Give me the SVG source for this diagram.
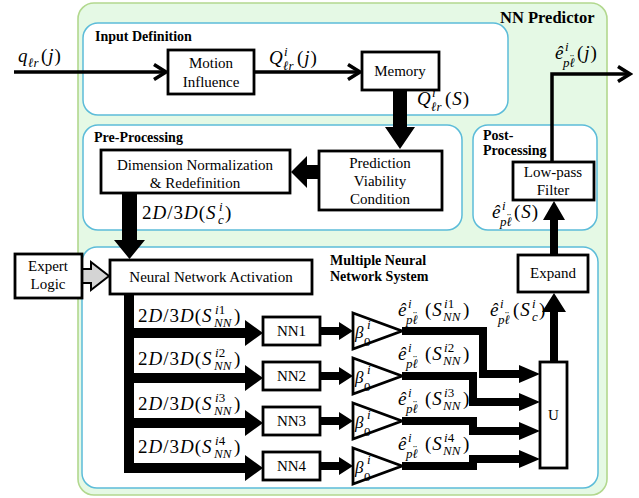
<svg xmlns="http://www.w3.org/2000/svg" width="639" height="498" viewBox="0 0 639 498">
<defs>
<style>
.outer{fill:#e5f9e5;stroke:#b2d88e;stroke-width:1.6}
.cont{fill:#fff;stroke:#5cbcd9;stroke-width:1.5}
.box{fill:#fff;stroke:#000;stroke-width:2.8}
.t{font-family:"Liberation Serif","Times New Roman",serif;font-size:15px;text-anchor:middle;fill:#000}
.h{font-family:"Liberation Serif","Times New Roman",serif;font-size:14px;font-weight:bold;fill:#000}
.m{font-family:"Liberation Serif","Times New Roman",serif;font-size:19px;letter-spacing:1px;fill:#000}
.s{font-family:"Liberation Serif","Times New Roman",serif;font-size:13px;fill:#000}
.d{font-family:"Liberation Serif","Times New Roman",serif;font-size:12px;fill:#000}
.i{font-style:italic}
.thin{fill:none;stroke:#000;stroke-width:3.5}
.w8{fill:none;stroke:#000;stroke-width:8}
.blk{fill:#000;stroke:none}
.gray{fill:#d4d4d4;stroke:#000;stroke-width:2}
</style>
<marker id="chev" markerUnits="userSpaceOnUse" markerWidth="18" markerHeight="20" viewBox="0 0 18 20" refX="15" refY="10" orient="auto">
<path d="M3,2.5 L15,10 L3,17.5" fill="none" stroke="#000" stroke-width="3.5"/>
</marker>
</defs>

<g id="containers">
<rect class="outer" x="78" y="3" width="529" height="492" rx="16"/>
<text class="h" x="500" y="23" style="font-size:16.5px">NN Predictor</text>
<rect class="cont" x="83" y="23" width="425" height="92" rx="15"/>
<text class="h" x="95" y="41">Input Definition</text>
<rect class="cont" x="83" y="125" width="379" height="105" rx="15"/>
<text class="h" x="94" y="142">Pre-Processing</text>
<rect class="cont" x="473" y="125" width="124" height="105" rx="15"/>
<text class="h" x="483" y="140">Post-</text>
<text class="h" x="483" y="155">Processing</text>
<rect class="cont" x="82" y="247" width="516" height="241" rx="15"/>
<text class="h" x="330" y="265">Multiple Neural</text>
<text class="h" x="330" y="281">Network System</text>
</g>

<g id="connectors">
<line class="thin" x1="14" y1="72" x2="166" y2="72" marker-end="url(#chev)"/>
<line class="thin" x1="254" y1="72" x2="360" y2="72" marker-end="url(#chev)"/>
<path class="blk" d="M393,90 H407 V127 H415 L400,149 L385,127 H393 Z"/>
<path class="blk" d="M319,165 H307 V156 L291,172 L307,188 V179 H319 Z"/>
<path class="blk" d="M122,193 H137 V240 H145 L129.5,259 L114,240 H122 Z"/>
<path class="gray" d="M82,269 H91 V262 L109,276 L91,290 V283 H82 Z"/>
<rect class="blk" x="124" y="294" width="10" height="179"/>
<path class="blk" d="M124,328 H245 V320 L263,333 L245,346 V338 H124 Z"/>
<path class="blk" d="M124,373 H245 V365 L263,378 L245,391 V383 H124 Z"/>
<path class="blk" d="M124,418 H245 V410 L263,423 L245,436 V428 H124 Z"/>
<path class="blk" d="M124,463 H245 V455 L263,468 L245,481 V473 H124 Z"/>
<path class="blk" d="M320,327 H339 V322 L353,331 L339,340 V335 H320 Z"/>
<path class="blk" d="M320,372 H339 V367 L353,376 L339,385 V380 H320 Z"/>
<path class="blk" d="M320,417 H339 V412 L353,421 L339,430 V425 H320 Z"/>
<path class="blk" d="M320,462 H339 V457 L353,466 L339,475 V470 H320 Z"/>
<path class="w8" d="M402,331 H483 V374 H522"/>
<path class="w8" d="M402,376 H473 V402 H522"/>
<path class="w8" d="M402,421 H473 V431 H522"/>
<path class="w8" d="M402,466 H473 V459 H522"/>
<path class="blk" d="M519,365 L540,374 L519,383 Z"/>
<path class="blk" d="M519,393 L540,402 L519,411 Z"/>
<path class="blk" d="M519,422 L540,431 L519,440 Z"/>
<path class="blk" d="M519,450 L540,459 L519,468 Z"/>
<path class="blk" d="M550,362 V312 H542 L554,293 L566,312 H558 V362 Z"/>
<path class="blk" d="M550,255 V220 H543 L554,201 L565,220 H558 V255 Z"/>
<polyline class="thin" points="552,162 552,74 630,74" marker-end="url(#chev)"/>
</g>

<g id="motion"><rect class="box" x="168" y="50" width="86" height="44"/>
<text class="t" x="211" y="68">Motion</text><text class="t" x="211" y="87">Influence</text></g>
<g id="memory"><rect class="box" x="362" y="52" width="77" height="38"/>
<text class="t" x="400" y="76">Memory</text></g>
<g id="prediction"><rect class="box" x="319" y="151" width="123" height="59"/>
<text class="t" x="380" y="168">Prediction</text><text class="t" x="380" y="186">Viability</text><text class="t" x="380" y="204">Condition</text></g>
<g id="dimension"><rect class="box" x="101" y="150" width="189" height="43"/>
<text class="t" x="195" y="170">Dimension Normalization</text><text class="t" x="195" y="188">&amp; Redefinition</text></g>
<g id="lowpass"><rect class="box" x="513" y="162" width="81" height="38"/>
<text class="t" x="553" y="177">Low-pass</text><text class="t" x="553" y="195">Filter</text></g>
<g id="expand"><rect class="box" x="518" y="255" width="70" height="37"/>
<text class="t" x="553" y="278">Expand</text></g>
<g id="expert"><rect class="box" x="15" y="254" width="67" height="44"/>
<text class="t" x="48" y="271">Expert</text><text class="t" x="48" y="289">Logic</text></g>
<g id="nna"><rect class="box" x="110" y="260" width="202" height="34"/>
<text class="t" x="211" y="282">Neural Network Activation</text></g>
<g id="nn1"><rect class="box" x="263" y="317" width="57" height="28"/><text class="t" x="291.5" y="336">NN1</text></g>
<g id="nn2"><rect class="box" x="263" y="362" width="57" height="28"/><text class="t" x="291.5" y="381">NN2</text></g>
<g id="nn3"><rect class="box" x="263" y="407" width="57" height="28"/><text class="t" x="291.5" y="426">NN3</text></g>
<g id="nn4"><rect class="box" x="263" y="452" width="57" height="28"/><text class="t" x="291.5" y="471">NN4</text></g>
<g id="u"><rect class="box" x="540" y="362" width="27" height="106"/><text class="t" x="553.5" y="420">U</text></g>

<g id="gain1"><path class="box" d="M353,313 L402,331 L353,349 Z"/>
<text class="m i" x="355" y="338" style="font-size:17px">β</text><text class="s i" x="367" y="329">i</text><text class="s" x="364" y="346">0</text></g>
<g id="gain2"><path class="box" d="M353,358 L402,376 L353,394 Z"/>
<text class="m i" x="355" y="383" style="font-size:17px">β</text><text class="s i" x="367" y="374">i</text><text class="s" x="364" y="391">0</text></g>
<g id="gain3"><path class="box" d="M353,403 L402,421 L353,439 Z"/>
<text class="m i" x="355" y="428" style="font-size:17px">β</text><text class="s i" x="367" y="419">i</text><text class="s" x="364" y="436">0</text></g>
<g id="gain4"><path class="box" d="M353,448 L402,466 L353,484 Z"/>
<text class="m i" x="355" y="473" style="font-size:17px">β</text><text class="s i" x="367" y="464">i</text><text class="s" x="364" y="481">0</text></g>

<g id="labels">
<text class="m i" x="18" y="62">q</text><text class="s i" x="28" y="67">ℓr</text><text class="m" x="41" y="62">(<tspan class="i">j</tspan>)</text>

<text class="m i" x="269" y="64">Q</text><text class="s i" x="284" y="56">i</text><text class="s i" x="283" y="70">ℓr</text><text class="m" x="297" y="64">(<tspan class="i">j</tspan>)</text>

<text class="m i" x="417" y="105">Q</text><text class="s i" x="432" y="97">i</text><text class="s i" x="431" y="111">ℓr</text><text class="m" x="445" y="105">(<tspan class="i">S</tspan>)</text>

<text class="m i" x="555" y="59">ê</text><text class="s i" x="565" y="51">i</text><text class="s i" x="563" y="67">pℓ</text><text class="d" x="570" y="63">¨</text><text class="m" x="577" y="59">(<tspan class="i">j</tspan>)</text>

<text class="m i" x="492" y="218">ê</text><text class="s i" x="502" y="210">i</text><text class="s i" x="500" y="226">pℓ</text><text class="d" x="507" y="222">¨</text><text class="m" x="514" y="218">(<tspan class="i">S</tspan>)</text>

<text class="m i" x="490" y="316">ê</text><text class="s i" x="500" y="308">i</text><text class="s i" x="498" y="324">pℓ</text><text class="d" x="505" y="320">¨</text><text class="m" x="513" y="316">(<tspan class="i">S</tspan></text><text class="s i" x="532" y="308">i</text><text class="s i" x="532" y="321">c</text><text class="m" x="539" y="316">)</text>

<text class="m" x="142" y="219">2<tspan class="i">D</tspan>/3<tspan class="i">D</tspan>(<tspan class="i">S</tspan></text><text class="s i" x="219" y="211">i</text><text class="s i" x="218" y="224">c</text><text class="m" x="225" y="219">)</text>

<text class="m" x="138" y="322">2<tspan class="i">D</tspan>/3<tspan class="i">D</tspan>(<tspan class="i">S</tspan></text><text class="s" x="215" y="314"><tspan class="i">i</tspan>1</text><text class="s i" x="214" y="327">NN</text><text class="m" x="234" y="322">)</text>
<text class="m" x="138" y="365">2<tspan class="i">D</tspan>/3<tspan class="i">D</tspan>(<tspan class="i">S</tspan></text><text class="s" x="215" y="357"><tspan class="i">i</tspan>2</text><text class="s i" x="214" y="370">NN</text><text class="m" x="234" y="365">)</text>
<text class="m" x="138" y="410">2<tspan class="i">D</tspan>/3<tspan class="i">D</tspan>(<tspan class="i">S</tspan></text><text class="s" x="215" y="402"><tspan class="i">i</tspan>3</text><text class="s i" x="214" y="415">NN</text><text class="m" x="234" y="410">)</text>
<text class="m" x="138" y="453">2<tspan class="i">D</tspan>/3<tspan class="i">D</tspan>(<tspan class="i">S</tspan></text><text class="s" x="215" y="445"><tspan class="i">i</tspan>4</text><text class="s i" x="214" y="458">NN</text><text class="m" x="234" y="453">)</text>

<text class="m i" x="398" y="316">ê</text><text class="s i" x="408" y="308">i</text><text class="s i" x="406" y="324">pℓ</text><text class="d" x="413" y="320">¨</text><text class="m" x="425" y="316">(<tspan class="i">S</tspan></text><text class="s" x="444" y="308"><tspan class="i">i</tspan>1</text><text class="s i" x="443" y="321">NN</text><text class="m" x="463" y="316">)</text>
<text class="m i" x="398" y="360">ê</text><text class="s i" x="408" y="352">i</text><text class="s i" x="406" y="368">pℓ</text><text class="d" x="413" y="364">¨</text><text class="m" x="425" y="360">(<tspan class="i">S</tspan></text><text class="s" x="444" y="352"><tspan class="i">i</tspan>2</text><text class="s i" x="443" y="365">NN</text><text class="m" x="463" y="360">)</text>
<text class="m i" x="398" y="405">ê</text><text class="s i" x="408" y="397">i</text><text class="s i" x="406" y="413">pℓ</text><text class="d" x="413" y="409">¨</text><text class="m" x="425" y="405">(<tspan class="i">S</tspan></text><text class="s" x="444" y="397"><tspan class="i">i</tspan>3</text><text class="s i" x="443" y="410">NN</text><text class="m" x="463" y="405">)</text>
<text class="m i" x="398" y="450">ê</text><text class="s i" x="408" y="442">i</text><text class="s i" x="406" y="458">pℓ</text><text class="d" x="413" y="454">¨</text><text class="m" x="425" y="450">(<tspan class="i">S</tspan></text><text class="s" x="444" y="442"><tspan class="i">i</tspan>4</text><text class="s i" x="443" y="455">NN</text><text class="m" x="463" y="450">)</text>
</g>
</svg>
